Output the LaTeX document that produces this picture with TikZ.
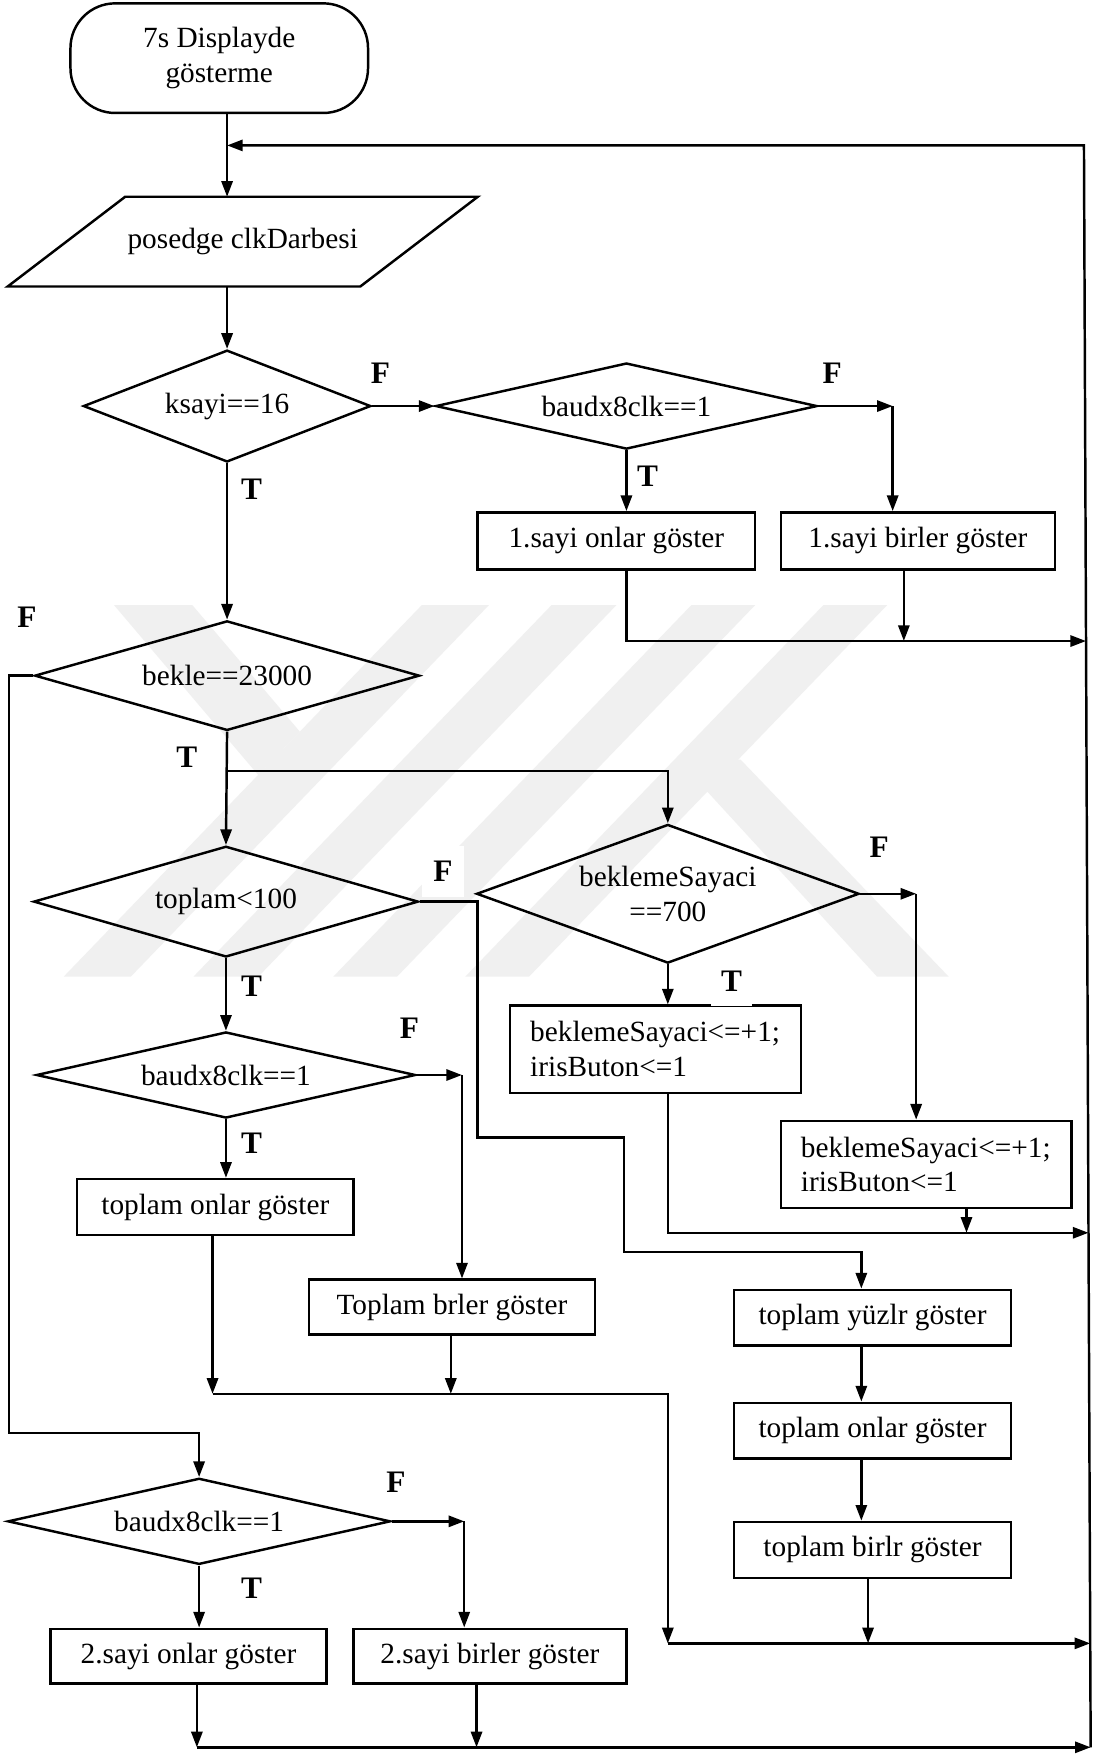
\documentclass[tikz,border=0pt]{standalone}
\usepackage{fontspec}
\setmainfont{Liberation Serif}
\usetikzlibrary{shapes.geometric,arrows.meta,calc}
\newcommand{\pxl}{0.5pt}
\begin{document}
\begin{tikzpicture}[x=0.5pt,y=-0.5pt,line width=1.1pt,
  txt/.style={font=\fontsize{13.1}{15.5}\selectfont},
  proc/.style={txt,draw,rectangle,inner sep=0pt,minimum width=#1*\pxl,minimum height=50*\pxl},
  assign/.style={txt,draw,rectangle,inner xsep=18*\pxl,inner ysep=0pt,text width=224*\pxl,
    align=left,minimum height=78*\pxl},
  dec/.style 2 args={txt,draw,diamond,aspect=3,inner sep=0pt,minimum width=#1*\pxl,minimum height=#2*\pxl},
  term/.style={txt,draw,rectangle,rounded corners=20pt,align=center,inner sep=0pt},
  lbl/.style={font=\fontsize{14}{16}\selectfont\bfseries,inner sep=1.5pt},
  patch/.style={fill=white,minimum width=#1*\pxl,minimum height=42*\pxl},
  wm/.style={fill=black!6,draw=none},
  arr/.style={-{Triangle[length=7pt,width=5pt]}}]

\fill[white] (0,0) rectangle (978,1568);
\useasboundingbox (0,0) rectangle (978,1568);

% faint background logo: slanted bars
\fill[wm] (102,541) -- (172,541) -- (268,654) -- (231,693) -- cycle;
\fill[wm] (377,541) -- (437,541) -- (117,873) -- (57,873) -- cycle;
\fill[wm] (493,541) -- (551,541) -- (231,873) -- (173,873) -- cycle;
\fill[wm] (618,541) -- (675,541) -- (355,873) -- (298,873) -- cycle;
\fill[wm] (736,541) -- (793,541) -- (473,873) -- (416,873) -- cycle;
\fill[wm] (606,679) -- (662,679) -- (848,873) -- (784,873) -- cycle;

% main trunk and the return line on the right
\coordinate (trunk) at (203,0);
\coordinate (rtop) at (969,130);
\coordinate (rbot) at (975,1562);
\coordinate (r1) at ($(rtop)!0.3094!(rbot)$);
\coordinate (r2) at ($(rtop)!0.6788!(rbot)$);
\coordinate (r3) at ($(rtop)!0.9351!(rbot)$);

% start and input
\node[term,minimum width=266*\pxl,minimum height=98*\pxl] (start) at (196,52)
  {7s Displayde\\gösterme};
\node[txt,minimum width=313*\pxl,minimum height=78*\pxl,inner sep=0pt] (inp) at (217,216)
  {posedge clkDarbesi};
\draw ($(inp.north west)+(52.5,0)$) -- ($(inp.north east)+(52.5,0)$)
  -- ($(inp.south east)+(-52.5,0)$) -- ($(inp.south west)+(-52.5,0)$) -- cycle;

% decisions
\node[dec={257}{100}] (d1) at (203,363) {ksayi==16};
\node[dec={341}{77}] (d2) at (560,363) {baudx8clk==1};
\node[dec={344}{98}] (d3) at (203,604) {bekle==23000};
\node[dec={344}{99}] (d4) at (202,806) {toplam<100};
\node[dec={342}{124},align=center] (d4b) at (597,799) {beklemeSayaci\\==700};
\node[dec={339}{77}] (d5) at (202,961) {baudx8clk==1};
\node[dec={342}{77}] (d6) at (178,1360) {baudx8clk==1};

% process boxes
\node[proc=248,minimum height=51*\pxl] (b1) at (551,483.5) {1.sayi onlar göster};
\node[proc=245,minimum height=51*\pxl] (b2) at (820.5,483.5) {1.sayi birler göster};
\node[assign] (b3) at (586,938) {beklemeSayaci<=+1;\\irisButon<=1};
\node[assign] (b4) at (828,1041) {beklemeSayaci<=+1;\\irisButon<=1};
\node[proc=247] (b5) at (192.5,1079) {toplam onlar göster};
\node[proc=256,minimum height=49*\pxl] (b6) at (404,1168.5) {Toplam brler göster};
\node[proc=248] (b7) at (780,1178) {toplam yüzlr göster};
\node[proc=248] (b8) at (780,1279) {toplam onlar göster};
\node[proc=248] (b9) at (780,1385.5) {toplam birlr göster};
\node[proc=247,minimum height=49*\pxl] (b10) at (168.5,1480.5) {2.sayi onlar göster};
\node[proc=244,minimum height=49*\pxl] (b11) at (438,1480.5) {2.sayi birler göster};

% bend points
\coordinate (j2) at (798,363);
\coordinate (m1) at (808,573);
\coordinate (lft) at (8,1281);
\coordinate (br) at (203,689);
\coordinate (p1) at (427,1017);
\coordinate (p2) at (558,1119);
\coordinate (q7) at (770,0);
\coordinate (j4) at (819,799);
\coordinate (m2) at (864,1102);
\coordinate (j5) at (413,961);
\coordinate (m5) at (190,1246);
\coordinate (m6) at (403,1246);
\coordinate (m7) at (597,1246);
\coordinate (m9) at (776,1469);
\coordinate (j6) at (415,1360);
\coordinate (m10) at (176,1562);
\coordinate (m11) at (426,1562);

% top of the chart
\draw[arr] (start.south -| trunk) -- (inp.north -| trunk);
\draw[arr] (rbot) -- (rtop) -- (rtop -| trunk);
\draw[arr] (inp.south -| trunk) -- (d1.north);
\draw[arr] (d1.east) -- (d2.west);
\draw[arr] (d1.south) -- (d3.north);

% first number
\draw[arr] (d2.east) -- (j2);
\draw[arr] (j2) -- (j2 |- b2.north);
\draw[arr] (d2.south) -- (d2.south |- b1.north);
\draw[arr] (d2.south |- b1.south) -- (d2.south |- r1) -- (r1);
\draw[arr] (m1 |- b2.south) -- (m1);

% bekle branch
\draw[arr] (d3.west) -- (d3.west -| lft) -- (lft) -- (lft -| d6.north) -- (d6.north);
\draw[arr] (d3.south) -- (d4.north);
\draw[arr] (br) -- (br -| d4b.north) -- (d4b.north);

% beklemeSayaci
\draw[arr] (d4b.east) -- (j4);
\draw[arr] (j4) -- (j4 |- b4.north);
\draw[arr] (d4b.south) -- (d4b.south |- b3.north);
\draw[arr] (d4b.south |- b3.south) -- (d4b.south |- r2) -- (r2);
\draw[arr] (m2 |- b4.south) -- (m2);

% toplam < 100
\draw[arr] (d4.east) -- (d4.east -| p1) -- (p1) -- (p1 -| p2) -- (p2) -- (p2 -| q7) -- (q7 |- b7.north);
\draw[arr] (q7 |- b7.south) -- (q7 |- b8.north);
\draw[arr] (q7 |- b8.south) -- (q7 |- b9.north);
\draw[arr] (m9 |- b9.south) -- (m9);
\draw[arr] (d4.south) -- (d5.north);
\draw[arr] (d5.east) -- (j5);
\draw[arr] (j5) -- (j5 |- b6.north);
\draw[arr] (d5.south) -- (d5.south |- b5.north);
\draw[arr] (m5 |- b5.south) -- (m5);
\draw[arr] (m6 |- b6.south) -- (m6);
\draw[arr] (m5) -- (m7) -- (m7 |- r3);
\draw[arr] (m7 |- r3) -- (r3);

% second number
\draw[arr] (d6.east) -- (j6);
\draw[arr] (j6) -- (j6 |- b11.north);
\draw[arr] (d6.south) -- (d6.south |- b10.north);
\draw[arr] (m10 |- b10.south) -- (m10);
\draw[arr] (m11 |- b11.south) -- (m11);
\draw[arr] (m10) -- (rbot);

% branch labels
\node[lbl] (f1) at (340,334) {F};
\node[lbl] (f2) at (744,334) {F};
\node[lbl] (t1) at (225,437) {T};
\node[lbl] (t2) at (579,426) {T};
\node[lbl,patch=38] (f3) at (24,552) {F};
\node[lbl,patch=32] (t3) at (167,677) {T};
\node[lbl,patch=37,minimum height=45*\pxl] (f4) at (396,779) {F};
\node[lbl] (f5) at (786,757) {F};
\node[lbl,patch=37,minimum height=44*\pxl] (t5) at (654,877) {T};
\node[lbl] (t4) at (225,882) {T};
\node[lbl] (f6) at (366,919) {F};
\node[lbl] (t6) at (225,1022) {T};
\node[lbl] (f7) at (354,1325) {F};
\node[lbl] (t7) at (225,1420) {T};
\end{tikzpicture}
\end{document}
